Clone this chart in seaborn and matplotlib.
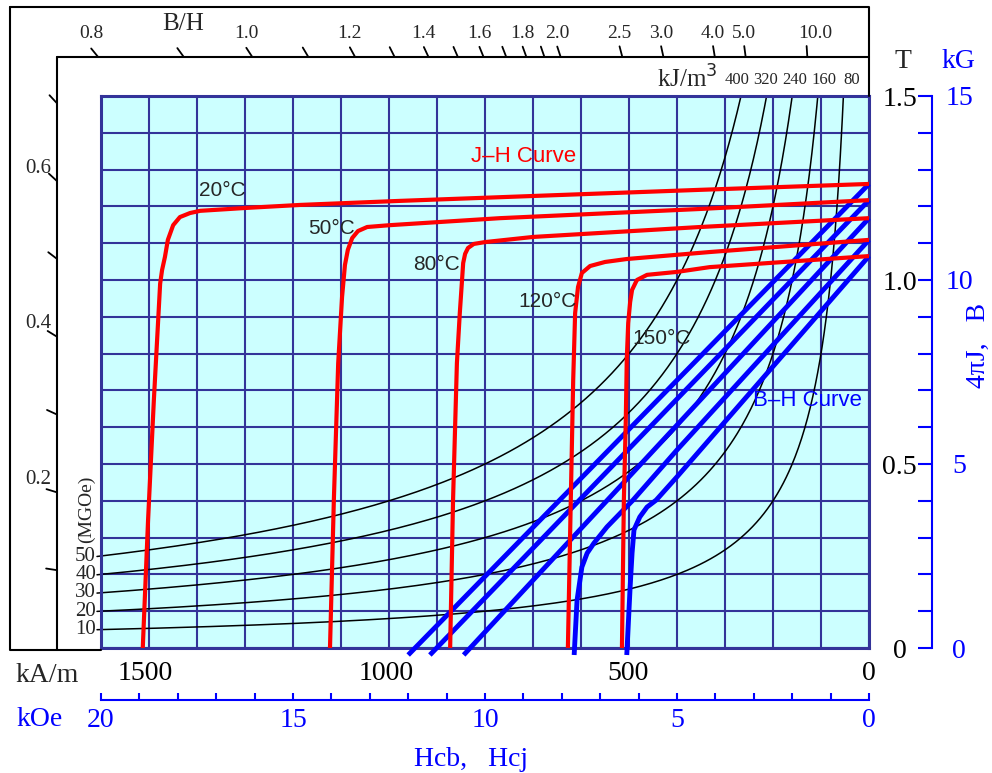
import numpy as np
import pandas as pd
import matplotlib
matplotlib.use("Agg")
import matplotlib.pyplot as plt
from matplotlib.lines import Line2D
import seaborn as sns

# ---------------- data ----------------
temps = ["20°C", "50°C", "80°C", "120°C", "150°C"]

# J-H (intrinsic) curves: H in kA/m, J in T
jh_h_20 = [1505, 1494, 1482, 1469, 1465, 1459, 1453, 1442, 1428, 1407, 1386, 1289, 1179, 972, 350, 0]
jh_j_20 = [0.000, 0.348, 0.674, 0.990, 1.027, 1.063, 1.109, 1.149, 1.171, 1.182, 1.188, 1.196, 1.204, 1.215, 1.245, 1.261]
jh_h_50 = [1117, 1109, 1100, 1092, 1086, 1080, 1071, 1059, 1040, 993, 765, 350, 0]
jh_j_50 = [0.000, 0.402, 0.774, 0.954, 1.041, 1.082, 1.114, 1.133, 1.144, 1.149, 1.168, 1.193, 1.217]
jh_h_80 = [868, 862, 854, 848, 841, 837, 831, 819, 796, 696, 350, 0]
jh_j_80 = [0.000, 0.402, 0.774, 0.910, 1.046, 1.071, 1.087, 1.098, 1.103, 1.117, 1.144, 1.168]
jh_h_120 = [624, 618, 613, 609, 603, 595, 578, 547, 502, 330, 0]
jh_j_120 = [0.000, 0.402, 0.728, 0.910, 0.981, 1.019, 1.038, 1.049, 1.057, 1.076, 1.109]
jh_h_150 = [512, 508, 504, 502, 499, 495, 491, 481, 460, 398, 330, 0]
jh_j_150 = [0.000, 0.402, 0.620, 0.783, 0.883, 0.940, 0.973, 1.000, 1.014, 1.022, 1.035, 1.065]

# B-H (normal) curves: H in kA/m, B in T
bh_h_20 = [0, 955]
bh_b_20 = [1.261, -0.019]
bh_h_50 = [0, 910]
bh_b_50 = [1.217, -0.019]
bh_h_80 = [0, 840]
bh_b_80 = [1.168, -0.019]
bh_h_120 = [0, 398, 489, 543, 570, 584, 595, 605, 611]
bh_b_120 = [1.109, 0.538, 0.402, 0.329, 0.285, 0.258, 0.220, 0.130, -0.019]
bh_h_150 = [0, 398, 441, 460, 475, 487, 491, 495, 502]
bh_b_150 = [1.065, 0.465, 0.402, 0.383, 0.356, 0.321, 0.258, 0.166, -0.019]

# constant energy-product curves
energy_mgoe = [10, 20, 30, 40, 50]
energy_kj_labels = ["80", "160", "240", "320", "400"]

# permeance (B/H) scale
bh_top_ticks = [0.8, 0.9, 1.0, 1.1, 1.2, 1.3, 1.4, 1.5, 1.6, 1.7, 1.8, 1.9, 2.0, 2.5, 3.0, 4.0, 5.0, 10.0]
bh_top_labels = {0.8: "0.8", 1.0: "1.0", 1.2: "1.2", 1.4: "1.4", 1.6: "1.6", 1.8: "1.8",
                 2.0: "2.0", 2.5: "2.5", 3.0: "3.0", 4.0: "4.0", 5.0: "5.0", 10.0: "10.0"}
bh_left_ticks = [0.1, 0.2, 0.3, 0.4, 0.5, 0.6, 0.7]
bh_left_labels = {0.2: "0.2", 0.4: "0.4", 0.6: "0.6"}

h_ticks = [1500, 1000, 500, 0]
koe_ticks = list(range(0, 21))
t_ticks = [0, 0.5, 1.0, 1.5]
t_labels = ["0", "0.5", "1.0", "1.5"]
kg_ticks = list(range(0, 16))

# ---------------- style ----------------
sns.set_style("white")
SERIF = ['Liberation Serif', 'DejaVu Serif']
SANS = ['Liberation Sans', 'DejaVu Sans']
plt.rcParams['font.family'] = SERIF
NAVY = '#333399'
CYAN = '#CCFFFF'
RED = '#FF0000'
BLUE = '#0000FF'

W, HH = 992, 773
X0, X1, Y0, Y1 = 101, 869, 96, 648
KOE = 79.5775            # kA/m per kOe
HMAX = 20 * KOE
BMAX = 1.5
MU0 = 4e-4 * np.pi       # T per kA/m
MGOE_KJ = 7.9577

fig = plt.figure(figsize=(W / 100, HH / 100), dpi=100)
fig.patch.set_facecolor('white')
ax = fig.add_axes([X0 / W, 1 - Y1 / HH, (X1 - X0) / W, (Y1 - Y0) / HH])
ax.set_facecolor(CYAN)

sx = (X1 - X0) / HMAX
sy = (Y1 - Y0) / BMAX


def to_px(h, b):
    return X1 - h * sx, Y1 - b * sy


def fline(xs, ys, **kw):
    fig.add_artist(Line2D([x / W for x in xs], [1 - y / HH for y in ys],
                          transform=fig.transFigure, **kw))


def ftext(x, y, s, **kw):
    fig.text(x / W, 1 - y / HH, s, **kw)


# ---------------- curves ----------------
for e in energy_mgoe:
    ekj = e * MGOE_KJ
    h = np.geomspace((X1 - 97) / sx, ekj / BMAX, 300)
    ax.plot(h, ekj / h, color='black', lw=1.1, clip_on=False, zorder=2)
    _, yl = to_px(HMAX, ekj / HMAX)
    ftext(96, yl, str(e), ha='right', va='center', fontsize=15, family=SERIF)

bh_df = pd.concat([pd.DataFrame({'H': h, 'B': b, 'temp': t}) for t, h, b in zip(
    temps, [bh_h_20, bh_h_50, bh_h_80, bh_h_120, bh_h_150],
    [bh_b_20, bh_b_50, bh_b_80, bh_b_120, bh_b_150])], ignore_index=True)
jh_df = pd.concat([pd.DataFrame({'H': h, 'J': j, 'temp': t}) for t, h, j in zip(
    temps, [jh_h_20, jh_h_50, jh_h_80, jh_h_120, jh_h_150],
    [jh_j_20, jh_j_50, jh_j_80, jh_j_120, jh_j_150])], ignore_index=True)

sns.lineplot(data=bh_df, x='H', y='B', units='temp', estimator=None, sort=False,
             color=BLUE, lw=3.5, ax=ax, zorder=3, clip_on=False,
             solid_capstyle='butt', solid_joinstyle='round')
sns.lineplot(data=jh_df, x='H', y='J', units='temp', estimator=None, sort=False,
             color=RED, lw=3.0, ax=ax, zorder=4,
             solid_capstyle='butt', solid_joinstyle='round')

ax.set_xlim(HMAX, 0)
ax.set_ylim(0, BMAX)
ax.set_xlabel('')
ax.set_ylabel('')

# ---------------- grid / axes ----------------
ax.set_xticks(np.linspace(0, HMAX, 17), minor=True)
ax.set_yticks(np.arange(16) * 0.1, minor=True)
ax.xaxis.remove_overlapping_locs = False
ax.yaxis.remove_overlapping_locs = False
ax.grid(which='minor', color=NAVY, lw=1.5)
ax.grid(visible=False, which='major')
ax.set_axisbelow(True)
for s in ax.spines.values():
    s.set_color(NAVY)
    s.set_linewidth(2.2)

ax.set_xticks(h_ticks, labels=[str(v) for v in h_ticks])
ax.tick_params(axis='x', which='both', length=0)
ax.tick_params(axis='x', which='major', labelsize=20, pad=9, labelcolor='black')
ax.yaxis.tick_right()
ax.set_yticks(t_ticks, labels=t_labels)
ax.tick_params(axis='y', which='both', length=0)
ax.tick_params(axis='y', which='major', labelsize=20, pad=22, labelcolor='black')
for lab in ax.get_yticklabels():
    lab.set_horizontalalignment('center')

sec_y = ax.secondary_yaxis((932 - X0) / (X1 - X0), functions=(lambda b: b * 10, lambda g: g / 10))
sec_y.set_yticks(kg_ticks, labels=[str(g) if g % 5 == 0 else '' for g in kg_ticks])
sec_y.tick_params(axis='y', direction='in', length=10, width=1.5, color=BLUE,
                  labelcolor=BLUE, labelsize=20, pad=19.5)
for lab in sec_y.get_yticklabels():
    lab.set_horizontalalignment('center')
for s in sec_y.spines.values():
    s.set_color(BLUE)
    s.set_linewidth(1.5)

sec_x = ax.secondary_xaxis(-(700 - Y1) / (Y1 - Y0), functions=(lambda h: h / KOE, lambda k: k * KOE))
sec_x.set_xticks(koe_ticks, labels=[str(k) if k % 5 == 0 else '' for k in koe_ticks])
sec_x.tick_params(axis='x', direction='in', length=5, width=1.5, color=BLUE,
                  labelcolor=BLUE, labelsize=20, pad=6)
for s in sec_x.spines.values():
    s.set_color(BLUE)
    s.set_linewidth(1.5)

# ---------------- black frame with B/H scale ----------------
fline([10, 869, 869], [7, 7, 96], color='black', lw=1.5)
fline([10, 10, 101], [7, 650, 650], color='black', lw=1.5)
fline([57, 869], [57, 57], color='black', lw=1.5)
fline([57, 57], [57, 650], color='black', lw=1.5)

K, L = 1.6, 11
ytop = 57
b_line = (Y1 - ytop) / sy
for pc in bh_top_ticks:
    h = b_line / (pc * MU0)
    x, _ = to_px(h, b_line)
    ang = np.arctan(K * pc * MU0 * sy / sx)
    x2, y2 = x - L * np.cos(ang), ytop - L * np.sin(ang)
    fline([x, x2], [ytop, y2], color='black', lw=1.3)
    if pc in bh_top_labels:
        shift = 9 if pc >= 10 else 0
        ftext(x2 + shift, 33, bh_top_labels[pc], ha='center', va='center', fontsize=14)

xl = 57
h_l = (X1 - xl) / sx
for pc in bh_left_ticks:
    b = pc * MU0 * h_l
    _, y = to_px(h_l, b)
    ang = np.arctan(K * pc * MU0 * sy / sx)
    x2, y2 = xl - L * np.cos(ang), y - L * np.sin(ang)
    fline([xl, x2], [y, y2], color='black', lw=1.3)
    if pc in bh_left_labels:
        ftext(51, y - 13, bh_left_labels[pc], ha='right', va='center', fontsize=15)

# ---------------- texts ----------------
ftext(183, 24, 'B/H', ha='center', va='center', fontsize=18)
ftext(718, 79, 'kJ/m$^{3}$', ha='right', va='center', fontsize=18)
for lab, xk in zip(energy_kj_labels, [852, 824, 795, 766, 737]):
    ftext(xk, 80, lab, ha='center', va='center', fontsize=12)
ftext(86, 509, '(MGOe)', rotation=90, ha='center', va='center', fontsize=14)
ftext(47, 676, 'kA/m', ha='center', va='center', fontsize=20)
ftext(40, 719, 'kOe', ha='center', va='center', fontsize=20, color=BLUE)
ftext(471, 759, 'Hcb,   Hcj', ha='center', va='center', fontsize=20, color=BLUE)
ftext(903, 62, 'T', ha='center', va='center', fontsize=20)
ftext(958, 62, 'kG', ha='center', va='center', fontsize=20, color=BLUE)
ftext(978, 345, '4πJ,   B', rotation=90, ha='center', va='center', fontsize=20, color=BLUE)

for lab, (xp, yp) in zip(temps, [(222, 190), (332, 228), (437, 265), (547, 301), (662, 338)]):
    ftext(xp, yp, lab, ha='center', va='center', fontsize=15, family=SANS)
ftext(524, 157, 'J–H Curve', ha='center', va='center', fontsize=16, color=RED, family=SANS)
ftext(807, 401, 'B–H Curve', ha='center', va='center', fontsize=16, color=BLUE, family=SANS)

fig.savefig('out.png', dpi=100, facecolor='white')
